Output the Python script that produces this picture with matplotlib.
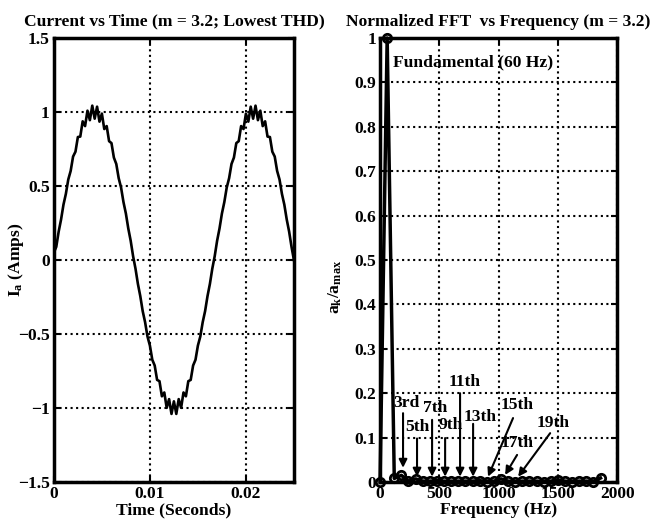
import numpy as np
import matplotlib
matplotlib.use("Agg")
import matplotlib.pyplot as plt

plt.rcParams['font.family'] = ['Liberation Serif', 'DejaVu Serif']
plt.rcParams['font.weight'] = 'bold'
plt.rcParams['mathtext.fontset'] = 'custom'
plt.rcParams['mathtext.rm'] = 'Liberation Serif:bold'
plt.rcParams['mathtext.it'] = 'Liberation Serif:bold'
plt.rcParams['mathtext.bf'] = 'Liberation Serif:bold'

dt = 0.00025
current = [
    0.05, 0.089, 0.192, 0.274, 0.374, 0.447, 0.544, 0.602, 0.699, 0.732,
    0.831, 0.834, 0.937, 0.905, 1.009, 0.945, 1.043, 0.955, 1.036, 0.935,
    0.989, 0.885, 0.905, 0.803, 0.790, 0.692, 0.649, 0.553, 0.489, 0.391,
    0.314, 0.213, 0.130, 0.026, -0.058, -0.161, -0.244, -0.345, -0.420, -0.517,
    -0.578, -0.674, -0.713, -0.810, -0.819, -0.921, -0.895, -0.999, -0.940, -1.040,
    -0.955, -1.040, -0.940, -0.999, -0.895, -0.921, -0.819, -0.810, -0.713, -0.674,
    -0.578, -0.517, -0.420, -0.345, -0.244, -0.161, -0.058, 0.026, 0.130, 0.213,
    0.314, 0.391, 0.489, 0.553, 0.649, 0.692, 0.790, 0.803, 0.905, 0.885,
    0.989, 0.935, 1.036, 0.955, 1.043, 0.945, 1.009, 0.905, 0.937, 0.834,
    0.831, 0.732, 0.699, 0.602, 0.544, 0.447, 0.374, 0.274, 0.192, 0.089,
    0.000,
]
time = np.arange(len(current)) * dt

# normalized FFT magnitudes at multiples of 60 Hz
freqs = [0, 60, 120, 180, 240, 300, 360, 420, 480, 540, 600, 660, 720, 780,
         840, 900, 960, 1020, 1080, 1140, 1200, 1260, 1320, 1380, 1440, 1500,
         1560, 1620, 1680, 1740, 1800, 1860]
ak = [0, 1, 0.008, 0.015, 0.002, 0.007, 0.002, 0.002, 0.003, 0.002, 0.002,
      0.002, 0.002, 0.002, 0.003, 0.001, 0.002, 0.007, 0.002, 0.001, 0.002,
      0.002, 0.002, 0.001, 0.002, 0.005, 0.002, 0.001, 0.002, 0.002, 0.001,
      0.009]

# harmonic labels: (label, text pos, arrow tail, arrow tip)
harm_labels = ["3rd", "5th", "7th", "9th", "11th", "13th", "15th", "17th", "19th"]
harm_text = [(219, 0.178), (312, 0.124), (464, 0.167), (599, 0.128), (717, 0.225),
             (844, 0.146), (1156, 0.173), (1156, 0.088), (1460, 0.133)]
harm_tail = [(194, 0.155), (312, 0.098), (439, 0.140), (549, 0.099), (675, 0.200),
             (785, 0.131), (1122, 0.144), (1156, 0.061), (1435, 0.110)]
harm_tip = [(194, 0.032), (312, 0.012), (439, 0.012), (549, 0.012), (675, 0.012),
            (785, 0.012), (911, 0.012), (1055, 0.016), (1165, 0.012)]

fig = plt.figure(figsize=(6.65, 5.23), dpi=100)
ax1 = fig.add_axes([0.081, 0.0784, 0.361, 0.8489])
ax2 = fig.add_axes([0.5715, 0.0784, 0.3565, 0.8489])

fs = 12.6

def style(ax):
    for s in ax.spines.values():
        s.set_linewidth(2.5)
    ax.grid(True, linestyle=':', color='black', linewidth=1.5)
    ax.tick_params(direction='in', length=4, width=1.5, top=True, right=True,
                   labelsize=fs, pad=3)
    for lab in ax.get_xticklabels() + ax.get_yticklabels():
        lab.set_fontweight('bold')

# left: current vs time
ax1.plot(time, current, color='black', linewidth=1.9)
ax1.set_xlim(0, 0.025)
ax1.set_ylim(-1.5, 1.5)
ax1.set_xticks([0, 0.01, 0.02])
ax1.set_xticklabels(['0', '0.01', '0.02'])
ax1.set_yticks([-1.5, -1, -0.5, 0, 0.5, 1, 1.5])
ax1.set_yticklabels(['\u22121.5', '\u22121', '\u22120.5', '0', '0.5', '1', '1.5'])
style(ax1)
ax1.set_title('Current vs Time (m = 3.2; Lowest THD)', fontsize=fs,
              fontweight='bold', pad=9)
ax1.set_xlabel('Time (Seconds)', fontsize=fs, fontweight='bold', labelpad=0)
ax1.set_ylabel(r'$\mathbf{I_a}$ (Amps)', fontsize=fs, fontweight='bold')
ax1.yaxis.set_label_coords(-0.115, 0.5)

# right: normalized FFT
ax2.plot(freqs, ak, color='black', linewidth=2.5, marker='o', markersize=6,
         markerfacecolor='none', markeredgewidth=2, clip_on=False, zorder=3)
ax2.set_xlim(0, 2000)
ax2.set_ylim(0, 1)
ax2.set_xticks([0, 500, 1000, 1500, 2000])
ax2.set_yticks(np.round(np.arange(0, 1.01, 0.1), 1))
ax2.set_yticklabels(['0', '0.1', '0.2', '0.3', '0.4', '0.5', '0.6', '0.7',
                     '0.8', '0.9', '1'])
style(ax2)
ax2.set_title('Normalized FFT  vs Frequency (m = 3.2)', fontsize=fs,
              fontweight='bold', pad=9)
ax2.set_xlabel('Frequency (Hz)', fontsize=fs, fontweight='bold', labelpad=0)
ax2.set_ylabel(r'$\mathbf{a_k/a_{max}}$', fontsize=fs)
ax2.yaxis.set_label_coords(-0.15, 0.44)

ax2.text(110, 0.946, 'Fundamental (60 Hz)', fontsize=fs, fontweight='bold',
         ha='left', va='center')

for lab, tp, tail, tip in zip(harm_labels, harm_text, harm_tail, harm_tip):
    ax2.text(tp[0], tp[1], lab, fontsize=fs, fontweight='bold',
             ha='center', va='center')
    ax2.annotate('', xy=tip, xytext=tail,
                 arrowprops=dict(arrowstyle='-|>', color='black', lw=1.5,
                                 mutation_scale=12, shrinkA=0, shrinkB=0))

fig.savefig('out.png', dpi=100)
